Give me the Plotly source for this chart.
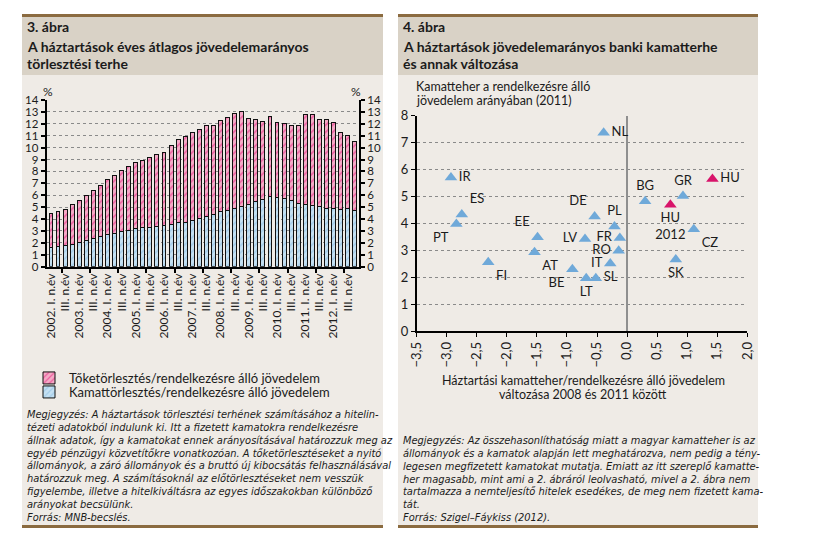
import plotly.graph_objects as go

# ---------------- data: chart 3 (stacked bars) ----------------
bar_index = list(range(1, 45))  # 2002 Q1 .. 2012 Q4
interest = [1.60, 1.68, 1.78, 1.88, 2.03, 2.20, 2.38, 2.52, 2.70, 2.80, 2.95,
            3.02, 3.18, 3.27, 3.30, 3.36, 3.46, 3.55, 3.70, 3.72, 3.88, 4.03,
            4.18, 4.38, 4.62, 4.72, 4.86, 5.05, 5.22, 5.46, 5.63, 5.86, 5.78,
            5.72, 5.55, 5.32, 5.24, 5.13, 5.04, 4.88, 4.88, 4.80, 4.86, 4.70]
principal = [2.90, 2.97, 3.02, 3.37, 3.52, 3.80, 4.02, 4.33, 4.60, 4.85, 5.10,
             5.38, 5.54, 5.63, 5.85, 6.04, 6.17, 6.60, 6.95, 7.18, 7.42, 7.52,
             7.64, 7.52, 7.63, 7.78, 7.99, 7.95, 7.26, 6.94, 6.54, 6.72, 6.29,
             6.28, 6.35, 6.51, 7.51, 7.69, 7.36, 7.47, 7.20, 6.50, 6.19, 5.80]
tick_vals = list(range(1, 45, 2))
years = ["2002.", "2003.", "2004.", "2005.", "2006.", "2007.", "2008.",
         "2009.", "2010.", "2011.", "2012."]
tick_text = []
for y in years:
    tick_text += [y + " I. n.év", "III. n.év"]

# ---------------- data: chart 4 (scatter) ----------------
countries = ["NL", "IR", "ES", "PT", "FI", "EE", "AT", "LV", "BE", "LT", "SL",
             "DE", "PL", "FR", "RO", "IT", "BG", "GR", "CZ", "SK"]
change = [-0.39, -2.93, -2.75, -2.84, -2.31, -1.49, -1.54, -0.70, -0.91, -0.68,
          -0.52, -0.54, -0.21, -0.12, -0.14, -0.28, 0.30, 0.93, 1.11, 0.81]
burden = [7.37, 5.70, 4.33, 3.98, 2.55, 3.48, 2.93, 3.42, 2.29, 1.96,
          1.96, 4.25, 3.88, 3.46, 2.98, 2.51, 4.82, 5.02, 3.78, 2.66]
label_pos = ["middle right", "middle right", "top right", "bottom left",
             "bottom right", "top left", "bottom right", "middle left",
             "bottom left", "bottom center", "middle right", "top left",
             "top center", "middle left", "middle left", "middle left",
             "top center", "top center", "bottom right", "bottom center"]
hu_labels = ["HU", "HU<br>2012"]
hu_change = [1.42, 0.72]
hu_burden = [5.65, 4.69]
hu_pos = ["middle right", "bottom center"]

W, H = 814, 558
def fx(p): return p / W
def fy(p): return 1 - p / H

FONT = "Lato"
NOTE_FONT = "DejaVu Sans"
TXT = "#1b1b1b"
HEADER = "#d9d2c6"
BODY = "#efebe6"
BROWN = "#8b6b40"

fig = go.Figure()

fig.add_trace(go.Bar(
    x=bar_index, y=interest, width=0.55, name="Kamattörlesztés/rendelkezésre álló jövedelem",
    marker=dict(color="#c4e0f2", line=dict(color="#111111", width=1),
                pattern=dict(shape="/", fgcolor="#86b9e0", bgcolor="#c4e0f2", size=5, solidity=0.3)),
    xaxis="x", yaxis="y", legend="legend2"))
fig.add_trace(go.Bar(
    x=bar_index, y=principal, width=0.55, name="Tőketörlesztés/rendelkezésre álló jövedelem",
    marker=dict(color="#f4aac6", line=dict(color="#111111", width=1),
                pattern=dict(shape="/", fgcolor="#e3157a", bgcolor="#f4aac6", size=5, solidity=0.3)),
    xaxis="x", yaxis="y", legend="legend"))
fig.add_trace(go.Scatter(x=[None], y=[None], xaxis="x", yaxis="y2", showlegend=False,
                         hoverinfo="skip"))

fig.add_trace(go.Scatter(
    x=change, y=burden, mode="markers+text", text=countries, textposition=label_pos,
    marker=dict(symbol="triangle-up", size=11, color="#6fa9d9"),
    textfont=dict(family=FONT, size=13, color=TXT), showlegend=False,
    xaxis="x3", yaxis="y3", cliponaxis=False))
fig.add_trace(go.Scatter(
    x=hu_change, y=hu_burden, mode="markers+text", text=hu_labels, textposition=hu_pos,
    marker=dict(symbol="triangle-up", size=11, color="#d8146a"),
    textfont=dict(family=FONT, size=13, color=TXT), showlegend=False,
    xaxis="x3", yaxis="y3", cliponaxis=False))

shapes = []
for x0, x1 in [(22, 383), (398, 758)]:
    shapes.append(dict(type="rect", xref="paper", yref="paper", x0=fx(x0), x1=fx(x1),
                       y0=fy(75), y1=fy(17), fillcolor=HEADER, line=dict(width=0), layer="below"))
    shapes.append(dict(type="rect", xref="paper", yref="paper", x0=fx(x0), x1=fx(x1),
                       y0=fy(525), y1=fy(75), fillcolor=BODY, line=dict(width=0), layer="below"))
    shapes.append(dict(type="rect", xref="paper", yref="paper", x0=fx(x0), x1=fx(x1),
                       y0=fy(17), y1=fy(14), fillcolor=BROWN, line=dict(width=0), layer="below"))
    shapes.append(dict(type="rect", xref="paper", yref="paper", x0=fx(x0), x1=fx(x1),
                       y0=fy(528), y1=fy(525), fillcolor=BROWN, line=dict(width=0), layer="below"))

ann = []
def text(x, y, s, size=12, bold=False, italic=False, xanchor="left", yanchor="middle",
         align="left", family=FONT):
    if bold:
        s = "<b>" + s + "</b>"
    if italic:
        s = "<i>" + s + "</i>"
    ann.append(dict(xref="paper", yref="paper", x=fx(x), y=fy(y), text=s, showarrow=False,
                    xanchor=xanchor, yanchor=yanchor, align=align, borderpad=0,
                    font=dict(family=family, size=size, color=TXT)))

text(26, 27, "3. ábra", 14, bold=True)
text(26, 46, "A háztartások éves átlagos jövedelemarányos", 14, bold=True)
text(26, 63, "törlesztési terhe", 14, bold=True)
text(402, 27, "4. ábra", 14, bold=True)
text(402, 46, "A háztartások jövedelemarányos banki kamatterhe", 14, bold=True)
text(402, 63, "és annak változása", 14, bold=True)

text(48, 91, "%", 12, xanchor="center")
text(356, 91, "%", 12, xanchor="center")

text(415, 86.5, "Kamatteher a rendelkezésre álló", 12.5)
text(415, 100, "jövedelem arányában (2011)", 12.5)
text(583, 380, "Háztartási kamatteher/rendelkezésre álló jövedelem", 12.5, xanchor="center")
text(583, 394, "változása 2008 és 2011 között", 12.5, xanchor="center")

left_note = ["Megjegyzés: A háztartások törlesztési terhének számításához a hitelin-",
             "tézeti adatokból indulunk ki. Itt a fizetett kamatokra rendelkezésre",
             "állnak adatok, így a kamatokat ennek arányosításával határozzuk meg az",
             "egyéb pénzügyi közvetítőkre vonatkozóan. A tőketörlesztéseket a nyitó",
             "állományok, a záró állományok és a bruttó új kibocsátás felhasználásával",
             "határozzuk meg. A számításoknál az előtörlesztéseket nem vesszük",
             "figyelembe, illetve a hitelkiváltásra az egyes időszakokban különböző",
             "arányokat becsülünk.",
             "Forrás: MNB-becslés."]
right_note = ["Megjegyzés: Az összehasonlíthatóság miatt a magyar kamatteher is az",
              "állományok és a kamatok alapján lett meghatározva, nem pedig a tény-",
              "legesen megfizetett kamatokat mutatja. Emiatt az itt szereplő kamatte-",
              "her magasabb, mint ami a 2. ábráról leolvasható, mivel a 2. ábra nem",
              "tartalmazza a nemteljesítő hitelek esedékes, de meg nem fizetett kama-",
              "tát.",
              "Forrás: Szigel–Fáykiss (2012)."]
text(26, 465.5, "<br>".join(left_note), 9.9, italic=True, yanchor="middle", family=NOTE_FONT)
text(402, 478.5, "<br>".join(right_note), 9.9, italic=True, yanchor="middle", family=NOTE_FONT)

axis_font = dict(family=FONT, size=11.5, color=TXT)
legend_common = dict(xanchor="left", yanchor="middle", bgcolor="rgba(0,0,0,0)",
                     font=dict(family=FONT, size=13, color=TXT), itemwidth=30,
                     borderwidth=0)
fig.update_layout(
    width=W, height=H, margin=dict(l=0, r=0, t=0, b=0, autoexpand=False),
    paper_bgcolor="white", plot_bgcolor="rgba(0,0,0,0)",
    separators=",.", barmode="stack", bargap=0.45,
    shapes=shapes, annotations=ann,
    showlegend=True,
    legend=dict(x=fx(29), y=fy(378), **legend_common),
    legend2=dict(x=fx(29), y=fy(392), **legend_common),
    xaxis=dict(domain=[fx(46.7), fx(359)], range=[0.4, 44.6], tickmode="array",
               tickvals=tick_vals, ticktext=tick_text, tickangle=-90,
               tickfont=dict(family=FONT, size=12, color=TXT), ticks="",
               showline=True, linecolor="black", linewidth=2, showgrid=False, zeroline=False,
               minor=dict(ticks="outside", ticklen=4, tickwidth=1.5, tickcolor="black",
                          tickmode="linear", tick0=2.5, dtick=4, showgrid=False),
               anchor="y", automargin=False),
    yaxis=dict(domain=[fy(266.7), fy(100)], range=[0, 14], dtick=1, tickfont=axis_font,
               ticks="outside", ticklen=4, tickwidth=2, tickcolor="black",
               showline=True, linecolor="black", linewidth=2,
               showgrid=True, gridcolor="#8a8a8a", griddash="dot", gridwidth=1,
               zeroline=False, anchor="x", automargin=False),
    yaxis2=dict(range=[0, 14], dtick=1, tickfont=axis_font, overlaying="y", side="right",
                ticks="outside", ticklen=4, tickwidth=2, tickcolor="black",
                showline=True, linecolor="black", linewidth=2, showgrid=False,
                zeroline=False, anchor="x", automargin=False),
    xaxis3=dict(domain=[fx(416.7), fx(747.3)], range=[-3.5, 2.0], dtick=0.5,
                tickformat=".1f", tickangle=-90, tickfont=dict(family=FONT, size=13, color=TXT),
                ticks="outside", ticklen=4, tickcolor="black",
                showline=True, linecolor="black", linewidth=1.5, showgrid=False,
                zeroline=True, zerolinecolor="#8f8f8f", zerolinewidth=2, anchor="y3",
                automargin=False),
    yaxis3=dict(domain=[fy(331), fy(115.7)], range=[0, 8], dtick=1,
                tickfont=dict(family=FONT, size=13, color=TXT),
                ticks="outside", ticklen=4, tickcolor="black",
                showline=True, linecolor="black", linewidth=1.5,
                showgrid=True, gridcolor="#8a8a8a", griddash="dot", gridwidth=1,
                zeroline=False, anchor="x3", automargin=False),
)

fig.write_html("out.html", config={"displayModeBar": False},
               post_script="document.body.style.margin='0px';")
